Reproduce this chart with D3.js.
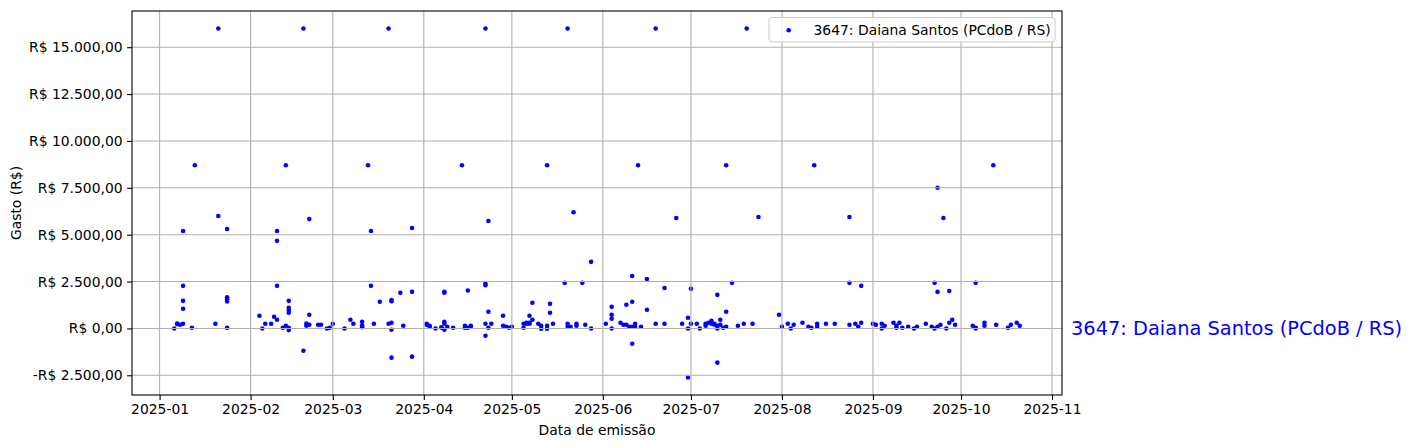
<!DOCTYPE html>
<html>
<head>
<meta charset="utf-8">
<script src="https://cdn.jsdelivr.net/npm/d3@7"></script>
<style>
  body { margin: 0; background: #fff; }
  svg { display: block; font-family: "DejaVu Sans", sans-serif; }
</style>
</head>
<body>
<svg id="chart" width="1412" height="448"></svg>
<script>
// series label, axis titles
const seriesName = "3647: Daiana Santos (PCdoB / RS)";
const xTitle = "Data de emissão";
const yTitle = "Gasto (R$)";

// emission dates (one entry per day) and the amounts spent on that day
const dates = [
  "2025-01-06","2025-01-07","2025-01-08","2025-01-09","2025-01-12","2025-01-13","2025-01-20","2025-01-21","2025-01-24",
  "2025-02-04","2025-02-05","2025-02-06","2025-02-08","2025-02-09","2025-02-10","2025-02-12","2025-02-13","2025-02-14",
  "2025-02-19","2025-02-20","2025-02-21","2025-02-24","2025-02-25","2025-02-27","2025-02-28",
  "2025-03-01","2025-03-05","2025-03-07","2025-03-08","2025-03-11","2025-03-13","2025-03-14","2025-03-15","2025-03-17",
  "2025-03-20","2025-03-21","2025-03-24","2025-03-25","2025-03-28",
  "2025-04-02","2025-04-03","2025-04-05","2025-04-07","2025-04-08","2025-04-09","2025-04-11","2025-04-14","2025-04-15",
  "2025-04-16","2025-04-17","2025-04-22","2025-04-23","2025-04-24","2025-04-28","2025-04-29","2025-04-30",
  "2025-05-01","2025-05-05","2025-05-06","2025-05-07","2025-05-08","2025-05-10","2025-05-11","2025-05-13","2025-05-14",
  "2025-05-15","2025-05-19","2025-05-20","2025-05-21","2025-05-22","2025-05-23","2025-05-25","2025-05-26","2025-05-28",
  "2025-06-02","2025-06-04","2025-06-07","2025-06-08","2025-06-09","2025-06-10","2025-06-11","2025-06-12","2025-06-13",
  "2025-06-14","2025-06-16","2025-06-19","2025-06-22","2025-06-26","2025-06-28","2025-06-30",
  "2025-07-01","2025-07-03","2025-07-04","2025-07-06","2025-07-07","2025-07-08","2025-07-09","2025-07-10","2025-07-11",
  "2025-07-12","2025-07-13","2025-07-15","2025-07-17","2025-07-19","2025-07-20","2025-07-22","2025-07-24","2025-07-31",
  "2025-08-01","2025-08-03","2025-08-04","2025-08-05","2025-08-08","2025-08-10","2025-08-11","2025-08-12","2025-08-13",
  "2025-08-16","2025-08-19","2025-08-24","2025-08-26","2025-08-27","2025-08-28",
  "2025-09-01","2025-09-02","2025-09-04","2025-09-05","2025-09-08","2025-09-09","2025-09-10","2025-09-11","2025-09-13",
  "2025-09-15","2025-09-16","2025-09-19","2025-09-21","2025-09-22","2025-09-23","2025-09-24","2025-09-25","2025-09-26",
  "2025-09-27","2025-09-28","2025-09-29",
  "2025-10-05","2025-10-06","2025-10-09","2025-10-12","2025-10-13","2025-10-17","2025-10-18","2025-10-20","2025-10-21"
];
const amounts = [
  [0],[260,230],[200],[250,1050,1470,2270,5200],[40],[8700],[250],[16000,6000],[5300,1660,1550,1440,40],
  [675],[0],[250],[250],[620],[460,2270,4670,5200],[40],[145,8700],[1470,1100,980,840,40,-90],
  [16000,-1190],[265,145],[730,5830,200],[200],[200],[0],[40],
  [250],[0],[460],[250],[350,150,60],[8700],[5200,2270],[250],[1420],
  [16000,250],[300,1510,1450,-70,-1560],[1900],[145],[5360,1950,-1505],
  [200,250],[145,90],[0],[40,60],[356,250,-70,1950,1900],[90],[40],[8700],[40,145],
  [40,2020],[145,90],[16000,250,2380,2300,-390],[5730,890,40],[250],[145,675],[90],[40],
  [90],[40,250],[250,300],[250,300,675],[1370,460],[250],[145,-15],[8700,145,-15],[1310,835],
  [250],[2430],[250,90,16000],[90],[6200],[250,145],[2430],[200],[3550,0],
  [250],[1150,730,515,0],[300],[200],[200,1260],[90],[90,2800,1420,-815],[90,250],[8700],
  [90],[2640,995],[16000,250],[2160,250],[5890],[250],[570,-2620,0],
  [250,2110],[250],[0],[250,145],[300],[250,410],[200,250],[145,1790,-1825,0],[465,200],
  [40],[8700,890,90],[2430],[145],[250],[16000],[250],[5940],[730],
  [90],[250],[0],[200],[300],[90],[40],[8700],[250,90],
  [250],[250],[2430,5940,200],[250],[90],[2270,300],
  [250],[200],[250,0],[145],[300],[145,40],[300],[40],[90],
  [0],[90],[250],[90],[0,2430],[90,1950,7500],[200],[5890],[0],
  [300,2000],[465],[200],
  [145],[0,40,2430],[300,145],[8700],[200],[40],[200],[300],[145]
];

// y tick values
const yTicks = [-2500, 0, 2500, 5000, 7500, 10000, 12500, 15000];

const svg = d3.select("#chart");
const plot = {left: 132, right: 1062, top: 11, bottom: 395};

const parseDay = d3.timeParse("%Y-%m-%d");
const points = dates.flatMap((d, i) => amounts[i].map(v => ({date: parseDay(d), value: v})));

// 5% margins like matplotlib
let [x0, x1] = d3.extent(points, d => d.date);
let xPad = (x1 - x0) * 0.05;
let x = d3.scaleTime()
  .domain([new Date(+x0 - xPad), new Date(+x1 + xPad)])
  .range([plot.left, plot.right]);

let [y0, y1] = d3.extent(points, d => d.value);
let yPad = (y1 - y0) * 0.05;
let y = d3.scaleLinear()
  .domain([y0 - yPad, y1 + yPad])
  .range([plot.bottom, plot.top]);

const brl = d3.formatLocale({decimal: ",", thousands: ".", grouping: [3], currency: ["R$ ", ""], minus: "-"});
const fmtMoney = brl.format("$,.2f");
const xTicks = d3.timeMonth.range(d3.timeMonth.ceil(x.domain()[0]), x.domain()[1]);

// points
svg.append("g")
  .selectAll("circle")
  .data(points)
  .join("circle")
  .attr("cx", d => x(d.date))
  .attr("cy", d => y(d.value))
  .attr("r", 2.3)
  .attr("fill", "blue");

// grid (on top of the points, as in the source)
let grid = svg.append("g").attr("stroke", "#b0b0b0").attr("stroke-width", 1.1);
grid.selectAll(".gx").data(xTicks).join("line")
  .attr("x1", d => x(d)).attr("x2", d => x(d))
  .attr("y1", plot.top).attr("y2", plot.bottom);
grid.selectAll(".gy").data(yTicks).join("line")
  .attr("x1", plot.left).attr("x2", plot.right)
  .attr("y1", d => y(d)).attr("y2", d => y(d));

// axes
svg.append("g")
  .attr("transform", `translate(0,${plot.bottom})`)
  .call(d3.axisBottom(x).tickValues(xTicks).tickFormat(d3.timeFormat("%Y-%m")).tickSize(4.9).tickPadding(4.5))
  .call(g => g.select(".domain").remove())
  .call(g => g.selectAll("text").attr("font-size", 13.9).attr("fill", "#000").attr("font-family", "DejaVu Sans"))
  .call(g => g.selectAll("line").attr("stroke", "#000").attr("stroke-width", 1.1));

svg.append("g")
  .attr("transform", `translate(${plot.left},0)`)
  .call(d3.axisLeft(y).tickValues(yTicks).tickFormat(fmtMoney).tickSize(4.9).tickPadding(4.5))
  .call(g => g.select(".domain").remove())
  .call(g => g.selectAll("text").attr("font-size", 13.9).attr("fill", "#000").attr("font-family", "DejaVu Sans"))
  .call(g => g.selectAll("line").attr("stroke", "#000").attr("stroke-width", 1.1));

// frame
svg.append("rect")
  .attr("x", plot.left).attr("y", plot.top)
  .attr("width", plot.right - plot.left).attr("height", plot.bottom - plot.top)
  .attr("fill", "none").attr("stroke", "#000").attr("stroke-width", 1.1);

// axis titles
svg.append("text")
  .attr("x", (plot.left + plot.right) / 2).attr("y", 435)
  .attr("text-anchor", "middle").attr("font-size", 13.9)
  .text(xTitle);
svg.append("text")
  .attr("transform", `translate(21,${(plot.top + plot.bottom) / 2}) rotate(-90)`)
  .attr("text-anchor", "middle").attr("font-size", 13.9)
  .text(yTitle);

// series name at the right, aligned with zero
let last = points[points.length - 1];
svg.append("text")
  .attr("x", plot.right + 9).attr("y", y(0) + 7)
  .attr("font-size", 19.4).attr("fill", "blue")
  .text(seriesName);

// legend
let lg = svg.append("g").attr("transform", `translate(769,17.5)`);
lg.append("rect")
  .attr("width", 286).attr("height", 24.5).attr("rx", 3)
  .attr("fill", "#fff").attr("fill-opacity", 0.8)
  .attr("stroke", "#cccccc").attr("stroke-width", 1);
lg.append("circle").attr("cx", 19.7).attr("cy", 12.8).attr("r", 2.3).attr("fill", "blue");
lg.append("text").attr("x", 44.5).attr("y", 17.4).attr("font-size", 13.9).text(seriesName);
</script>
</body>
</html>
